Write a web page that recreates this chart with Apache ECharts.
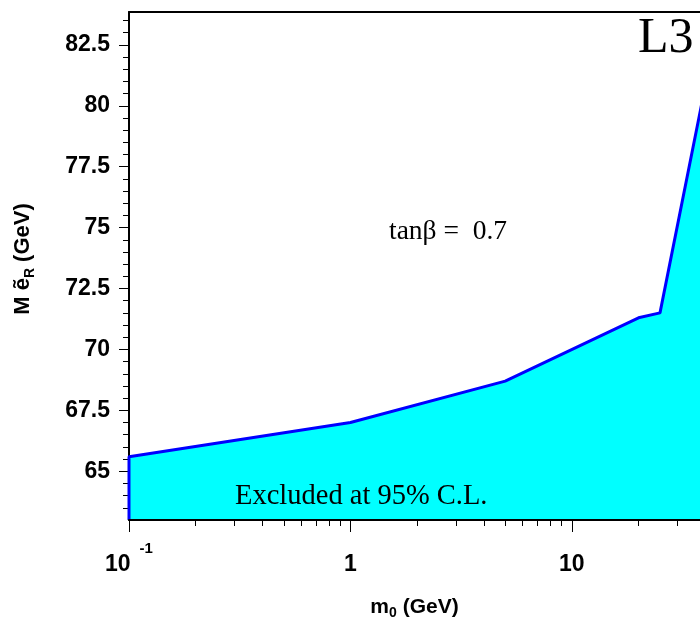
<!DOCTYPE html>
<html>
<head>
<meta charset="utf-8">
<script src="https://cdn.jsdelivr.net/npm/echarts@6/dist/echarts.min.js"></script>
<style>
  html, body { margin: 0; padding: 0; background: #fff; }
  #chart { width: 700px; height: 625px; }
</style>
</head>
<body>
<div id="chart"></div>
<script>
// Excluded region boundary in the (m0, M selectron_R) plane, tanβ = 0.7.
// The first vertex sits on the lower edge so the outline closes down to the axis.
const m0Values   = [0.1, 0.1, 1, 5, 20, 25, 40];
const massValues = [63, 65.6, 67.0, 68.7, 71.3, 71.5, 80.8];

// Axis ticks
const xMajorTicks = [0.1, 1, 10];
const xMinorTicks = [0.2, 0.3, 0.4, 0.5, 0.6, 0.7, 0.8, 0.9,
                     2, 3, 4, 5, 6, 7, 8, 9,
                     20, 30];
const yMajorTicks = [65, 67.5, 70, 72.5, 75, 77.5, 80, 82.5];
const yMinorTicks = [63.5, 64, 64.5, 65.5, 66, 66.5, 67, 68, 68.5, 69, 69.5,
                     70.5, 71, 71.5, 72, 73, 73.5, 74, 74.5, 75.5, 76, 76.5, 77,
                     78, 78.5, 79, 79.5, 80.5, 81, 81.5, 82, 83, 83.5];

const X_MIN = 0.1, X_MAX = 37.9, Y_MIN = 63, Y_MAX = 83.85;

const sansBold = { fontFamily: 'Liberation Sans, Arial, sans-serif', fontWeight: 'bold', color: '#000' };
const serif = 'Liberation Serif, Times New Roman, serif';

const chart = echarts.init(document.getElementById('chart'), null, { renderer: 'canvas' });

// Every label carries the same tall spacer token so the base numbers line up
function xLabel(v) {
  if (Math.abs(v - 0.1) < 1e-9) return '{b|10}{s|-1}{z| }';
  return '{b|' + String(Math.round(v)) + '}{z| }';
}

const option = {
  animation: false,
  backgroundColor: '#fff',
  grid: { left: 129, top: 12, bottom: 104, right: 0, show: false },
  xAxis: [
    {
      type: 'log', logBase: 10, min: X_MIN, max: X_MAX, position: 'bottom', z: 5,
      axisLine: { show: true, lineStyle: { color: '#000', width: 2 } },
      axisTick: { show: true, inside: false, length: 12, customValues: xMajorTicks,
                  lineStyle: { color: '#000', width: 1 } },
      axisLabel: {
        show: true, margin: 1, customValues: xMajorTicks, formatter: xLabel,
        rich: {
          b: Object.assign({ fontSize: 23, lineHeight: 22, verticalAlign: 'bottom' }, sansBold),
          s: Object.assign({ fontSize: 15, lineHeight: 15, verticalAlign: 'middle', padding: [0, 0, 0, 9] }, sansBold),
          z: Object.assign({ fontSize: 1, lineHeight: 55, verticalAlign: 'bottom' }, sansBold)
        }
      },
      splitLine: { show: false },
      name: '{t|m}{sub|0}{t| (GeV)}',
      nameLocation: 'middle', nameGap: 74,
      nameTextStyle: {
        rich: {
          t: Object.assign({ fontSize: 21, lineHeight: 26, verticalAlign: 'middle' }, sansBold),
          sub: Object.assign({ fontSize: 14, lineHeight: 26, verticalAlign: 'bottom' }, sansBold)
        }
      }
    },
    {
      type: 'log', logBase: 10, min: X_MIN, max: X_MAX, position: 'bottom', z: 5,
      axisLine: { show: false },
      axisTick: { show: true, inside: false, length: 6, customValues: xMinorTicks,
                  lineStyle: { color: '#000', width: 1 } },
      axisLabel: { show: false },
      splitLine: { show: false }
    },
    {
      // upper frame line
      type: 'log', logBase: 10, min: X_MIN, max: X_MAX, position: 'top', z: 5,
      axisLine: { show: true, lineStyle: { color: '#000', width: 2 } },
      axisTick: { show: false },
      axisLabel: { show: false },
      splitLine: { show: false }
    }
  ],
  yAxis: [
    {
      type: 'value', min: Y_MIN, max: Y_MAX, position: 'left',
      axisLine: { show: true, lineStyle: { color: '#000', width: 2 } },
      axisTick: { show: true, inside: false, length: 10, customValues: yMajorTicks,
                  lineStyle: { color: '#000', width: 1 } },
      axisLabel: Object.assign({ show: true, margin: 19, fontSize: 23, customValues: yMajorTicks }, sansBold),
      splitLine: { show: false },
      name: '{t|M ẽ}{sub|R}{t| (GeV)}',
      nameLocation: 'middle', nameGap: 92, nameRotate: 90,
      nameTextStyle: {
        padding: [0, 0, 0, 14],
        rich: {
          t: Object.assign({ fontSize: 22, lineHeight: 28, verticalAlign: 'middle' }, sansBold),
          sub: Object.assign({ fontSize: 14, lineHeight: 28, verticalAlign: 'bottom' }, sansBold)
        }
      }
    },
    {
      type: 'value', min: Y_MIN, max: Y_MAX, position: 'left',
      axisLine: { show: false },
      axisTick: { show: true, inside: false, length: 6, customValues: yMinorTicks,
                  lineStyle: { color: '#000', width: 1 } },
      axisLabel: { show: false },
      splitLine: { show: false }
    }
  ],
  series: [
    {
      type: 'line',
      xAxisIndex: 0, yAxisIndex: 0,
      data: m0Values.map((x, i) => [x, massValues[i]]),
      showSymbol: false, symbol: 'none',
      lineStyle: { color: '#0000ff', width: 3 },
      areaStyle: { color: '#00ffff', opacity: 1, origin: 'start' },
      z: 2,
      clip: true
    }
  ],
  graphic: [
    {
      type: 'text', left: 638, top: 14, z: 10,
      style: { text: 'L3', font: '50px ' + serif, fill: '#000' }
    },
    {
      type: 'text', left: 389, top: 218, z: 10,
      style: { text: 'tanβ =  0.7', font: '27.5px ' + serif, fill: '#000' }
    },
    {
      type: 'text', left: 235, top: 482, z: 10,
      style: { text: 'Excluded at 95% C.L.', font: '28.5px ' + serif, fill: '#000' }
    }
  ]
};

chart.setOption(option);
</script>
</body>
</html>
